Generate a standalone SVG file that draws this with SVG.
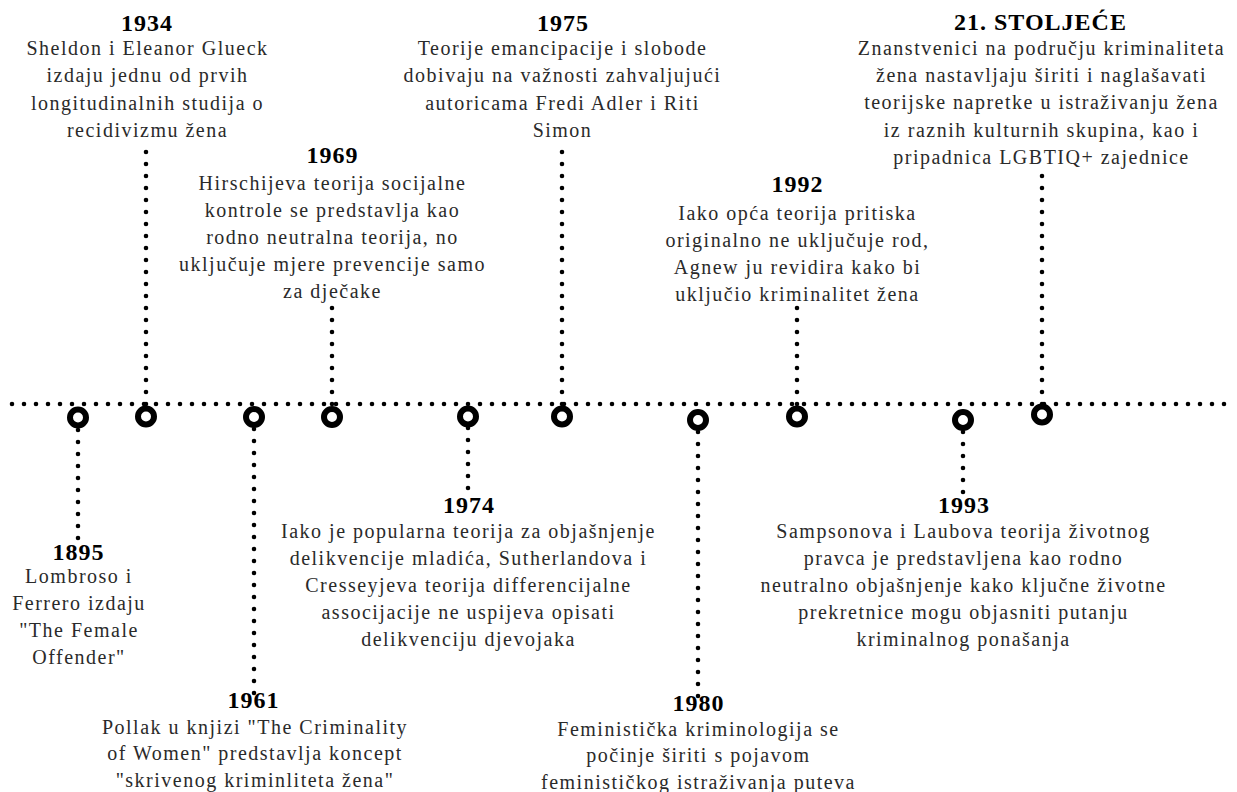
<svg xmlns="http://www.w3.org/2000/svg" width="1237" height="792" viewBox="0 0 1237 792">
<style>
.t{font-family:"Liberation Serif","Times New Roman",serif;font-size:24px;font-weight:bold;fill:#000;text-anchor:middle;letter-spacing:1px}
.b{font-family:"Liberation Serif","Times New Roman",serif;font-size:20px;fill:#2a2a2a;text-anchor:middle;letter-spacing:1.5px}
.dl{stroke:#000;stroke-width:4.6;stroke-linecap:round;stroke-dasharray:0 12;fill:none}
.ring{fill:#fff;stroke:#000;stroke-width:6}
</style>
<rect width="1237" height="792" fill="#fff"/>
<g id="connectors">
<path class="dl" d="M12 404 H1228"/>
<path class="dl" d="M146 404 V148"/>
<path class="dl" d="M562 404 V148"/>
<path class="dl" d="M332 404 V306"/>
<path class="dl" d="M797 404 V306"/>
<path class="dl" d="M1042 404 V174"/>
<path class="dl" d="M78 418 V542"/>
<path class="dl" d="M254 417 V697"/>
<path class="dl" d="M468 416 V494"/>
<path class="dl" d="M698 420 V698"/>
<path class="dl" d="M963 420 V493"/>
</g>
<g id="n1895">
<circle class="ring" cx="78" cy="417.5" r="8"/>
<text class="t" x="78.5" y="560">1895</text>
<text class="b" x="79" y="582.5">Lombroso i</text>
<text class="b" x="79" y="609.5">Ferrero izdaju</text>
<text class="b" x="79" y="636.5">"The Female</text>
<text class="b" x="79" y="663.5">Offender"</text>
</g>
<g id="n1934">
<circle class="ring" cx="146" cy="416.5" r="8"/>
<text class="t" x="147" y="30.5">1934</text>
<text class="b" x="147.5" y="55">Sheldon i Eleanor Glueck</text>
<text class="b" x="147.5" y="82.4">izdaju jednu od prvih</text>
<text class="b" x="147.5" y="109.8">longitudinalnih studija o</text>
<text class="b" x="147.5" y="137.2">recidivizmu žena</text>
</g>
<g id="n1961">
<circle class="ring" cx="254" cy="417" r="8"/>
<text class="t" x="253.5" y="708">1961</text>
<text class="b" x="255" y="733.5">Pollak u knjizi "The Criminality</text>
<text class="b" x="255" y="760">of Women" predstavlja koncept</text>
<text class="b" x="255" y="786.5">"skrivenog kriminliteta žena"</text>
</g>
<g id="n1969">
<circle class="ring" cx="332" cy="417" r="8"/>
<text class="t" x="332.5" y="162.5">1969</text>
<text class="b" x="332.5" y="189.5">Hirschijeva teorija socijalne</text>
<text class="b" x="332.5" y="216.5">kontrole se predstavlja kao</text>
<text class="b" x="332.5" y="243.5">rodno neutralna teorija, no</text>
<text class="b" x="332.5" y="270.5">uključuje mjere prevencije samo</text>
<text class="b" x="332.5" y="297.5">za dječake</text>
</g>
<g id="n1974">
<circle class="ring" cx="468" cy="416.5" r="8"/>
<text class="t" x="469" y="513">1974</text>
<text class="b" x="468.5" y="537.5">Iako je popularna teorija za objašnjenje</text>
<text class="b" x="468.5" y="564.5">delikvencije mladića, Sutherlandova i</text>
<text class="b" x="468.5" y="591.5">Cresseyjeva teorija differencijalne</text>
<text class="b" x="468.5" y="618.5">associjacije ne uspijeva opisati</text>
<text class="b" x="468.5" y="645.5">delikvenciju djevojaka</text>
</g>
<g id="n1975">
<circle class="ring" cx="562" cy="416.5" r="8"/>
<text class="t" x="563" y="30.5">1975</text>
<text class="b" x="562.5" y="55">Teorije emancipacije i slobode</text>
<text class="b" x="562.5" y="82.4">dobivaju na važnosti zahvaljujući</text>
<text class="b" x="562.5" y="109.8">autoricama Fredi Adler i Riti</text>
<text class="b" x="562.5" y="137.2">Simon</text>
</g>
<g id="n1980">
<circle class="ring" cx="698" cy="420" r="8"/>
<text class="t" x="698.5" y="711">1980</text>
<text class="b" x="698.5" y="735.5">Feministička kriminologija se</text>
<text class="b" x="698.5" y="762">počinje širiti s pojavom</text>
<text class="b" x="698.5" y="788.5">feminističkog istraživanja puteva</text>
</g>
<g id="n1992">
<circle class="ring" cx="797" cy="416.5" r="8"/>
<text class="t" x="797.5" y="191.5">1992</text>
<text class="b" x="797.5" y="219.5">Iako opća teorija pritiska</text>
<text class="b" x="797.5" y="246.5">originalno ne uključuje rod,</text>
<text class="b" x="797.5" y="273.5">Agnew ju revidira kako bi</text>
<text class="b" x="797.5" y="300.5">uključio kriminalitet žena</text>
</g>
<g id="n1993">
<circle class="ring" cx="963" cy="420" r="8"/>
<text class="t" x="964" y="513">1993</text>
<text class="b" x="963.5" y="537.5">Sampsonova i Laubova teorija životnog</text>
<text class="b" x="963.5" y="564.5">pravca je predstavljena kao rodno</text>
<text class="b" x="963.5" y="591.5">neutralno objašnjenje kako ključne životne</text>
<text class="b" x="963.5" y="618.5">prekretnice mogu objasniti putanju</text>
<text class="b" x="963.5" y="645.5">kriminalnog ponašanja</text>
</g>
<g id="n21">
<circle class="ring" cx="1042" cy="414.5" r="8"/>
<text class="t" x="1040.5" y="29.5">21. STOLJEĆE</text>
<text class="b" x="1041.5" y="54.5">Znanstvenici na području kriminaliteta</text>
<text class="b" x="1041.5" y="81.9">žena nastavljaju širiti i naglašavati</text>
<text class="b" x="1041.5" y="109.3">teorijske napretke u istraživanju žena</text>
<text class="b" x="1041.5" y="136.7">iz raznih kulturnih skupina, kao i</text>
<text class="b" x="1041.5" y="164.1">pripadnica LGBTIQ+ zajednice</text>
</g>
</svg>
